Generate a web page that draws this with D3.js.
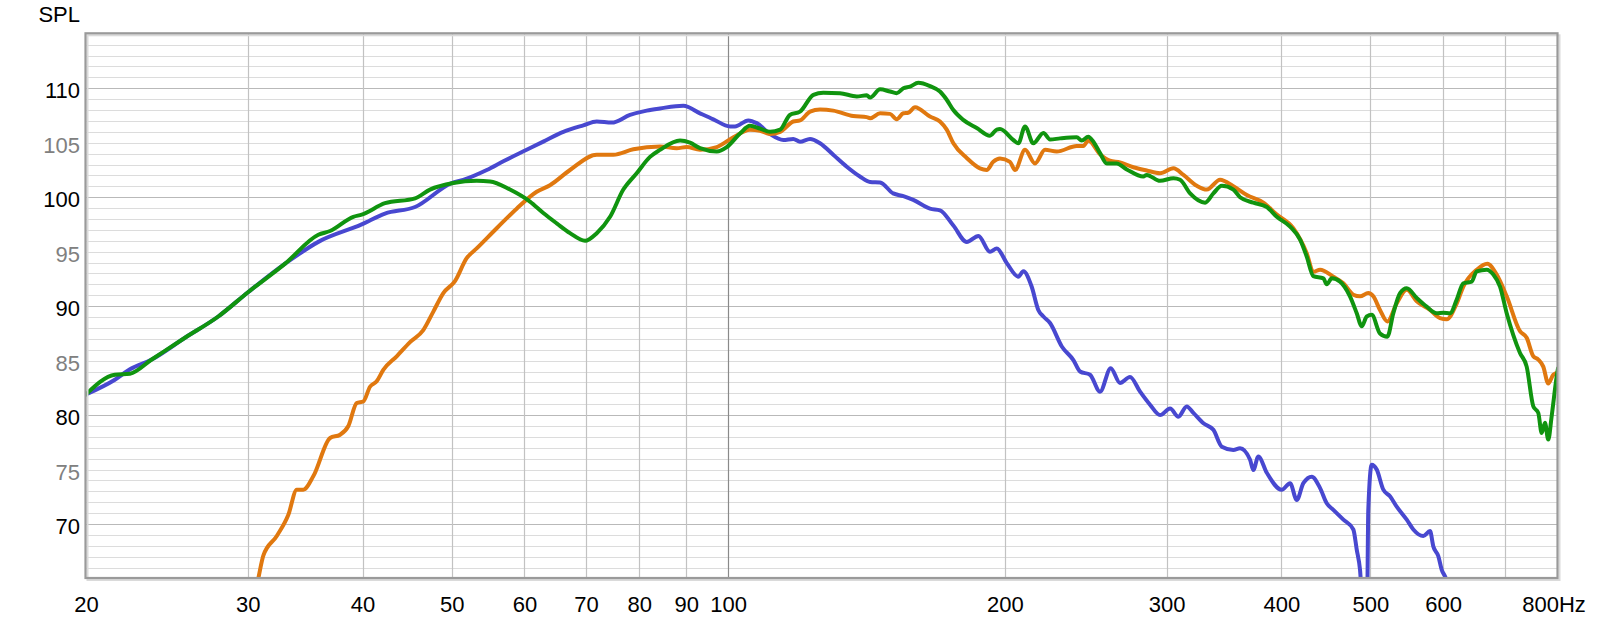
<!DOCTYPE html>
<html><head><meta charset="utf-8">
<script src="https://cdn.jsdelivr.net/npm/d3@7"></script>
<style>
body{margin:0;background:#fff;}
svg text{font-family:Arial,"Liberation Sans",sans-serif;}
</style>
</head><body>
<svg id="chart" width="1600" height="619"></svg>
<script>
// ---- tick labels ----
const xTickValues = [20,30,40,50,60,70,80,90,100,200,300,400,500,600,700,800];
const xTickLabels = ["20","30","40","50","60","70","80","90","100","200","300","400","500","600","","800Hz"];
const yTickValues = [70,75,80,85,90,95,100,105,110];
const yTickLabels = ["70","75","80","85","90","95","100","105","110"];
const yAxisTitle = "SPL";

// ---- series (frequency in Hz, SPL in dB) ----
const blueFreq = [20,21.5,22.33,23.58,25.63,27.86,30.04,32.94,35.8,39.91,42.31,45.62,50.0,51.48,54.6,56.92,60.34,62.91,66.15,69.55,71.93,74.68,78.18,81.52,84.29,89.36,93.17,96.33,100.45,101.7,105.16,107.4,111.04,114.8,117.7,119.7,122.75,125.86,130.1,134.6,139.1,142.7,146.3,151.2,155.1,159.0,165.8,170.0,175.8,181.8,187.2,192.7,196.0,201.0,206.9,209.5,213.9,217.5,220.3,224.0,230.7,237.5,241.5,247.6,253.9,260.8,266.9,273.7,280.7,287.8,295.1,302.6,309.0,315.5,320.8,329.0,337.3,344.5,354.6,360.6,369.8,372.8,377.5,385.6,400.3,408.8,415.7,422.6,431.6,440.7,448.1,455.6,467.2,479.0,483.1,487.1,490.8,495.7,497.3,501.6,507.9,516.4,525.1,534.0,547.6,556.7,570.8,580.5,585.3,592.7,597.8,602.7,607.3];
const blueSPL = [81.9,83.25,84.2,85.1,87.1,89.05,91.3,93.9,95.9,97.5,98.5,99.1,101.3,101.6,102.5,103.3,104.35,105.1,106.0,106.6,106.95,106.85,107.55,107.95,108.15,108.4,107.7,107.15,106.5,106.5,107.05,106.8,105.8,105.25,105.35,105.1,105.35,104.95,103.9,102.8,101.9,101.4,101.35,100.35,100.1,99.75,98.95,98.8,97.4,95.9,96.45,95.0,95.3,93.95,92.7,93.2,91.8,89.65,89.05,88.45,86.3,85.05,84.0,83.7,82.15,84.3,82.95,83.5,82.15,80.95,80.0,80.6,79.85,80.8,80.2,79.25,78.65,77.1,76.8,76.95,75.9,74.95,76.2,74.7,73.15,73.75,72.2,73.75,74.35,73.3,71.9,71.3,70.4,69.5,67.65,65.8,62,62,71.3,75.45,75.0,73.15,72.55,71.6,70.4,69.5,68.9,69.35,67.95,67.05,65.8,65.2,64.5];

const orangeFreq = [30.17,30.8,31.19,32.26,33.21,33.92,34.48,35.36,36.87,37.81,38.6,39.41,40.07,40.75,41.44,42.13,43.57,45.05,46.57,47.76,48.97,50.42,51.92,53.24,55.98,58.85,61.88,63.98,67.27,71.93,74.98,78.83,84.29,87.89,90.12,93.17,97.16,101.3,105.6,108.3,111.04,113.9,117.7,119.7,122.75,125.86,130.1,136.8,141.5,142.7,146.3,150.0,152.5,155.1,157.0,159.7,165.8,170.0,172.9,175.8,181.8,187.9,191.1,194.3,197.6,202.6,205.2,210.4,215.7,221.2,227.8,239.5,243.5,246.5,253.9,260.3,266.9,276.0,285.4,295.1,305.2,312.9,323.6,331.8,343.0,354.6,366.8,382.3,395.4,412.1,426.2,433.3,440.7,455.6,467.2,479.0,487.1,497.3,503.6,512.1,521.6,534.0,547.6,561.5,580.5,595.2,605.3,620.7,631.0,652.6,670.1,686.1,703.5,727.3,739.6,752.0,761.4,771.0,780.7,790.6,800];
const orangeSPL = [61.5,65.0,67.1,68.9,70.85,73.15,73.15,74.4,77.9,78.2,79.0,81.1,81.25,82.6,83.1,84.15,85.4,86.7,87.8,89.5,91.2,92.3,94.4,95.3,97.15,98.95,100.5,101.1,102.5,103.9,103.9,104.4,104.65,104.5,104.6,104.35,104.6,105.5,106.2,106.1,105.8,106.0,106.95,107.05,107.85,108.05,107.95,107.45,107.35,107.25,107.7,107.65,107.15,107.7,107.75,108.25,107.4,106.95,106.2,104.95,103.6,102.65,102.5,103.25,103.55,103.25,102.5,104.35,103.1,104.35,104.2,104.7,104.7,105.2,103.95,103.35,103.2,102.75,102.45,102.2,102.65,102.05,101.05,100.7,101.6,101.0,100.2,99.5,98.4,97.15,94.85,93.15,93.35,92.7,92.1,91.05,90.9,91.2,90.9,89.65,88.6,90.25,91.5,90.45,89.65,88.9,88.8,90.25,91.8,93.35,93.9,92.9,90.9,87.7,87.1,85.4,85.1,84.45,82.9,83.7,83.9];

const greenFreq = [20,21.5,22.33,23.58,25.63,27.86,30.04,32.94,35.8,36.87,39.08,39.91,42.31,45.62,47.36,50.21,53.24,55.05,57.87,60.84,62.91,65.06,67.27,69.85,71.93,74.37,76.88,79.5,82.2,84.29,88.62,90.87,93.17,97.16,99.63,103.0,105.6,108.3,111.04,113.9,116.7,119.7,123.8,126.9,132.3,138.0,141.5,142.7,146.3,150.0,152.5,155.1,157.7,161.0,165.8,170.0,172.9,175.8,180.2,186.4,192.7,196.0,197.6,204.3,206.9,210.4,214.8,220.3,224.0,229.7,239.5,242.5,246.5,249.7,253.9,258.2,264.7,271.5,283.0,285.4,295.1,305.2,310.3,318.2,330.4,337.3,344.5,354.6,360.6,372.8,385.6,395.4,408.8,419.2,426.2,433.3,444.4,448.1,453.8,463.3,475.0,483.1,489.2,495.4,501.6,512.1,521.6,529.5,538.5,547.6,561.5,575.7,590.3,600.2,610.3,620.7,631.0,644.4,652.6,669.1,680.3,691.8,703.5,727.3,739.6,752.0,761.4,768.0,774.3,780.7,787.4,797.4,800];
const greenSPL = [81.9,83.7,83.8,85.1,87.1,89.05,91.3,93.9,96.55,96.9,98.2,98.4,99.45,99.9,100.7,101.3,101.5,101.45,100.7,99.6,98.55,97.6,96.7,96.0,96.7,98.2,100.7,102.2,103.7,104.35,105.2,105.0,104.5,104.2,104.6,105.85,106.55,106.3,106.0,106.2,107.55,107.85,109.4,109.6,109.55,109.25,109.35,109.15,109.9,109.7,109.55,110.0,110.15,110.5,110.2,109.7,108.95,108.0,107.1,106.35,105.65,106.2,106.25,105.25,104.95,106.5,104.95,105.9,105.3,105.4,105.5,105.2,105.55,105.1,104.05,103.1,103.1,102.55,101.9,102.05,101.5,101.75,101.6,100.35,99.5,100.35,101.05,100.7,100.0,99.5,99.1,98.2,97.3,96.1,94.55,92.75,92.55,92.0,92.55,92.25,90.9,89.35,88.15,89.05,89.2,87.5,87.2,89.35,91.2,91.65,90.75,89.95,89.35,89.4,89.35,90.6,92.1,92.25,93.2,93.35,92.9,91.8,89.35,85.7,84.45,80.8,80.2,78.35,79.3,77.75,79.9,83.55,84.3];

const seriesColors = ["#4848d0","#e0780f","#10940f"];

// ---- drawing ----
const W = 1600, H = 619;
const plot = {left: 86, right: 1558, top: 33.8, bottom: 578.5};
const svg = d3.select("#chart");
const x = d3.scaleLog().domain([20, 800]).range([plot.left, plot.right]);
const y = d3.scaleLinear().domain([65, 115]).range([plot.bottom, plot.top]);

svg.append("rect").attr("width", W).attr("height", H).attr("fill", "#fff");

svg.append("rect").attr("x", plot.left).attr("y", plot.top)
  .attr("width", plot.right - plot.left).attr("height", plot.bottom - plot.top)
  .attr("fill", "#fff");

const grid = svg.append("g");
const minorY = d3.range(66, 115, 1).filter(v => v % 10 !== 0);
grid.selectAll("line.hmin").data(minorY).join("line")
  .attr("x1", plot.left).attr("x2", plot.right)
  .attr("y1", d => Math.round(y(d)) + 0.5).attr("y2", d => Math.round(y(d)) + 0.5)
  .attr("stroke", "#dcdcdc").attr("stroke-width", 1);
const majorY = [70, 80, 90, 100, 110];
grid.selectAll("line.hmaj").data(majorY).join("line")
  .attr("x1", plot.left).attr("x2", plot.right)
  .attr("y1", d => Math.round(y(d)) + 0.5).attr("y2", d => Math.round(y(d)) + 0.5)
  .attr("stroke", "#b9b9b9").attr("stroke-width", 1.2);
grid.selectAll("line.v").data(xTickValues.filter(v => v > 20 && v < 800)).join("line")
  .attr("x1", d => Math.round(x(d)) + 0.5).attr("x2", d => Math.round(x(d)) + 0.5)
  .attr("y1", plot.top).attr("y2", plot.bottom)
  .attr("stroke", d => d === 100 ? "#8a8a8a" : "#c2c2c2").attr("stroke-width", 1.2);

svg.append("defs").append("clipPath").attr("id", "clip")
  .append("rect").attr("x", plot.left).attr("y", plot.top)
  .attr("width", plot.right - plot.left).attr("height", plot.bottom - plot.top);

const line = d3.line().x(d => x(d[0])).y(d => y(d[1])).curve(d3.curveMonotoneX);
const series = [
  d3.zip(blueFreq, blueSPL),
  d3.zip(orangeFreq, orangeSPL),
  d3.zip(greenFreq, greenSPL)
];
const curves = svg.append("g").attr("clip-path", "url(#clip)");
series.forEach((s, i) => {
  curves.append("path").datum(s).attr("d", line)
    .attr("fill", "none").attr("stroke", seriesColors[i])
    .attr("stroke-width", 4).attr("stroke-linejoin", "round").attr("stroke-linecap", "round");
});

svg.append("rect").attr("x", plot.left + 1.5).attr("y", plot.top + 1.5)
  .attr("width", plot.right - plot.left).attr("height", plot.bottom - plot.top)
  .attr("fill", "none").attr("stroke", "#dadada").attr("stroke-width", 2);
svg.append("rect").attr("x", plot.left - 0.5).attr("y", plot.top - 0.5)
  .attr("width", plot.right - plot.left).attr("height", plot.bottom - plot.top)
  .attr("fill", "none").attr("stroke", "#9a9a9a").attr("stroke-width", 2.2);

const yAxis = d3.axisLeft(y).tickValues(yTickValues)
  .tickFormat((d, i) => yTickLabels[i]).tickSize(0).tickPadding(6);
const gy = svg.append("g").attr("transform", `translate(${plot.left},0)`).call(yAxis);
gy.select(".domain").remove();
gy.selectAll("text").attr("font-size", 22).attr("dy", "0.43em")
  .style("font-family", "Arial, 'Liberation Sans', sans-serif")
  .attr("fill", d => d % 10 === 0 ? "#000" : "#808080");

const xAxis = d3.axisBottom(x).tickValues(xTickValues)
  .tickFormat((d, i) => xTickLabels[i]).tickSize(0).tickPadding(18);
const gx = svg.append("g").attr("transform", `translate(0,${plot.bottom})`).call(xAxis);
gx.select(".domain").remove();
gx.selectAll("text").attr("font-size", 22).attr("fill", "#000")
  .style("font-family", "Arial, 'Liberation Sans', sans-serif")
  .attr("dx", d => d === 800 ? -4.5 : 0);

svg.append("text").attr("x", 80).attr("y", 22).attr("text-anchor", "end")
  .attr("font-size", 22).attr("fill", "#000").text(yAxisTitle);
</script>
</body></html>
